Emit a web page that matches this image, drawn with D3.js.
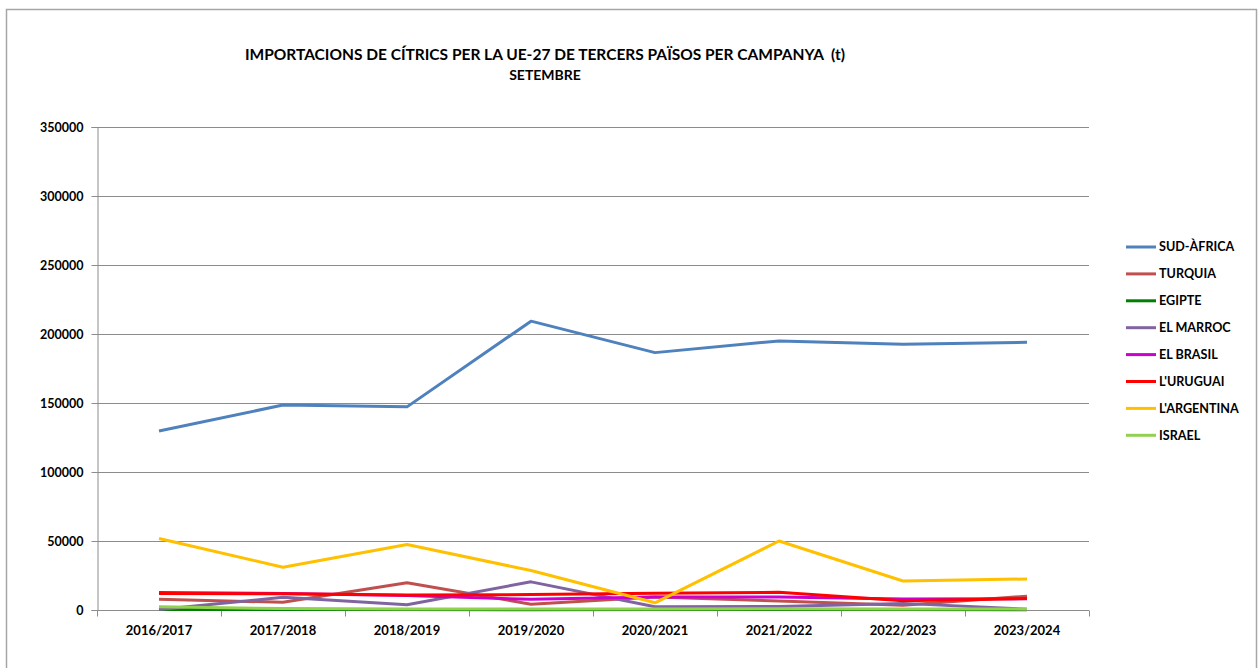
<!DOCTYPE html>
<html><head><meta charset="utf-8">
<script src="https://cdn.jsdelivr.net/npm/d3@7"></script>
<style>body{margin:0;background:#fff}svg{display:block}text{font-family:Lato,"Liberation Sans",sans-serif;font-weight:bold;fill:#000}</style>
</head><body><svg id="c" width="1260" height="668"></svg>
<script>
const categories = ["2016/2017","2017/2018","2018/2019","2019/2020","2020/2021","2021/2022","2022/2023","2023/2024"];
const seriesNames = ["SUD-ÀFRICA","TURQUIA","EGIPTE","EL MARROC","EL BRASIL","L'URUGUAI","L'ARGENTINA","ISRAEL"];
const seriesColors = ["#4F81BD","#C0504D","#008000","#8064A2","#CC00CC","#FF0000","#FFC000","#92D050"];
const sudafrica = [129700,148500,147200,209300,186500,195000,192500,194000];
const turquia   = [7700,5600,19700,4200,9500,6500,3500,10000];
const egipte    = [400,300,300,200,300,300,300,200];
const marroc    = [300,9200,3800,20400,2400,2600,4800,600];
const brasil    = [12600,12000,10500,7700,9500,9400,8000,8200];
const uruguai   = [12000,11800,10800,11200,12100,12800,6700,8300];
const argentina = [51800,31000,47400,28600,5200,50000,21000,22500];
const israel    = [2400,1000,800,700,800,900,800,800];
const yTicks = [0,50000,100000,150000,200000,250000,300000,350000];
const seriesValues = [sudafrica,turquia,egipte,marroc,brasil,uruguai,argentina,israel];

const svg = d3.select("#c");
svg.append("rect").attr("x",6.5).attr("y",9.5).attr("width",1250).attr("height",700)
  .attr("fill","none").attr("stroke","#a6a6a6").attr("stroke-width",1.5);

const x = d3.scaleBand().domain(categories).range([97,1089]);
const y = d3.scaleLinear().domain([0,350000]).range([610,127]);

// gridlines
svg.append("g").selectAll("line").data(yTicks.slice(1)).join("line")
  .attr("x1",97).attr("x2",1089).attr("y1",d=>Math.round(y(d))+0.5).attr("y2",d=>Math.round(y(d))+0.5)
  .attr("stroke","#8c8c8c").attr("stroke-width",1);

// y axis
const ya = svg.append("g").attr("transform","translate(97.5,0)")
  .call(d3.axisLeft(y).tickValues(yTicks).tickSize(6).tickPadding(8).tickFormat(d3.format("d")));
ya.select(".domain").attr("stroke","#8c8c8c");
ya.selectAll(".tick line").attr("stroke","#8c8c8c");
ya.selectAll("text").style("font-size","12.5px").attr("font-family",null);

// x axis
const xa = svg.append("g").attr("transform","translate(0,610.5)")
  .call(d3.axisBottom(x).tickSize(0).tickPadding(15));
xa.select(".domain").attr("stroke","#8c8c8c").attr("d","M97,0H1089");
xa.selectAll("text").style("font-size","13px").attr("font-family",null);
xa.append("g").selectAll("line").data(d3.range(categories.length+1)).join("line")
  .attr("x1",i=>97+i*x.step()+0.5).attr("x2",i=>97+i*x.step()+0.5).attr("y1",0).attr("y2",6)
  .attr("stroke","#8c8c8c");

// lines
const line = d3.line().x((d,i)=>x(categories[i])+x.bandwidth()/2).y(d=>y(d));
svg.append("g").selectAll("path").data(seriesValues).join("path")
  .attr("d",d=>line(d)).attr("fill","none")
  .attr("stroke",(d,i)=>seriesColors[i]).attr("stroke-width",3).attr("stroke-linejoin","round");

// legend
const lg = svg.append("g").selectAll("g").data(seriesNames).join("g")
  .attr("transform",(d,i)=>`translate(1126,${247+i*26.9})`);
lg.append("line").attr("x1",0).attr("x2",30).attr("stroke",(d,i)=>seriesColors[i]).attr("stroke-width",3);
lg.append("text").attr("x",33).attr("dy","0.35em").style("font-size","12.6px").text(d=>d);

// titles
svg.append("text").attr("x",545).attr("y",60).attr("text-anchor","middle").style("font-size","15.5px")
  .style("white-space","pre")
  .text("IMPORTACIONS DE CÍTRICS PER LA UE-27 DE TERCERS PAÏSOS PER CAMPANYA  (t)");
svg.append("text").attr("x",545).attr("y",80).attr("text-anchor","middle").style("font-size","14px")
  .text("SETEMBRE");
</script></body></html>
